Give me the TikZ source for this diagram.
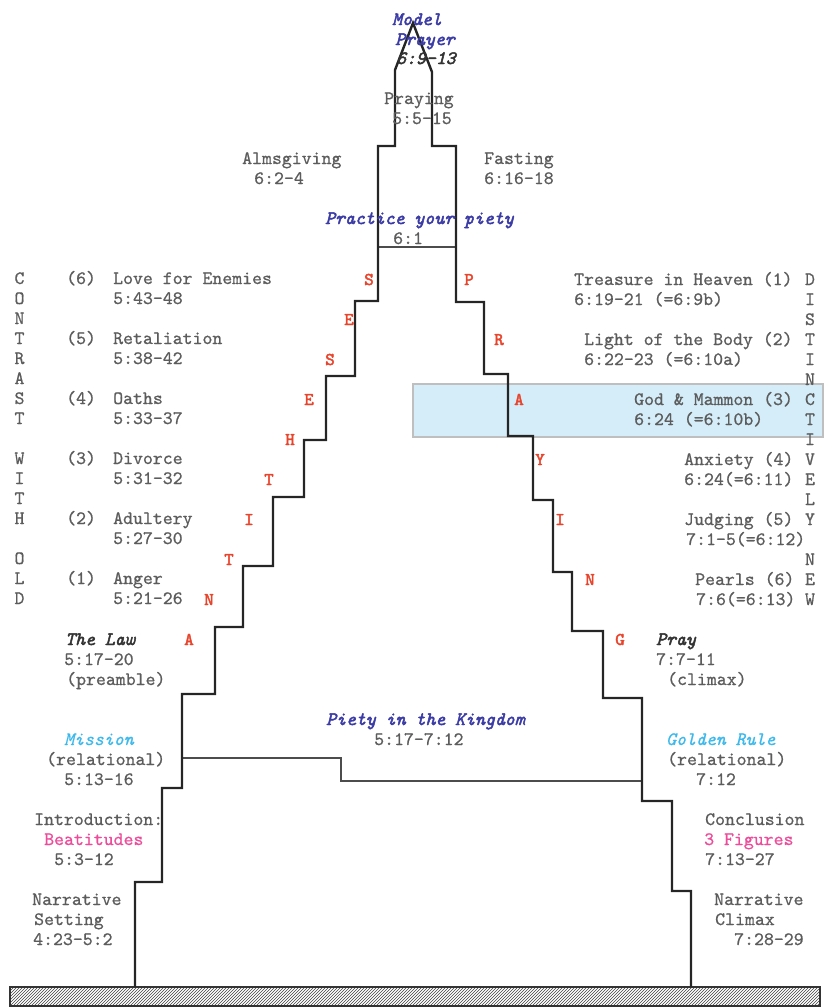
\documentclass[tikz,border=0pt]{standalone}
\usepackage{fontspec}
\newfontfamily\monorg{lmmono10-regular.otf}[FakeBold=0.8]
\newfontfamily\monoit{lmmono10-italic.otf}[FakeBold=0.8]
\newfontfamily\monobf{lmmono10-regular.otf}[FakeBold=2.5]
\newfontfamily\monobi{lmmono10-italic.otf}[FakeBold=2.5]
\usetikzlibrary{patterns}
\definecolor{txt}{HTML}{5C5C5C}
\definecolor{redl}{HTML}{E8442C}
\definecolor{blu}{HTML}{3B3BA6}
\definecolor{lblu}{HTML}{3CB9EC}
\definecolor{pnk}{HTML}{EC4C9A}
\definecolor{boxfill}{HTML}{D4EDF8}
\definecolor{wall}{HTML}{252525}
\tikzset{
  lbl/.style={anchor=base west, inner sep=0pt, font=\monorg\fontsize{18.9}{20}\selectfont, text=txt},
  bi/.style={lbl, font=\monobi\fontsize{18.9}{20}\selectfont},
  head/.style={bi, text=blu},
  dark/.style={bi, text=black!80},
  relit/.style={lbl, font=\monoit\fontsize{18.9}{20}\selectfont, text=lblu},
  pink/.style={lbl, text=pnk},
  letter/.style={lbl, anchor=base},
  redletter/.style={anchor=base, inner sep=0pt, font=\monobf\fontsize{18}{20}\selectfont, text=redl},
  wallline/.style={draw=wall, line width=2.4pt, line join=miter},
  innerline/.style={draw=black!70, line width=1.6pt},
  hilite/.style={fill=boxfill, draw=black!25, line width=1.2pt}
}
\begin{document}
\begin{tikzpicture}[x=1pt,y=-1pt]
\useasboundingbox (0,0) rectangle (823,1007);
% highlight band
\path[hilite] (413,384) rectangle (823,437);
% ground
\path[pattern=north east lines, pattern color=black!75] (10,987) rectangle (820,1006);
\draw[black!80, line width=1.2pt] (10,987) rectangle (820,1006);
% inner lines
\draw[innerline] (378,247) -- (456,247);
\draw[innerline] (182,758) -- (341,758) -- (341,781) -- (642,781);
% outline
\draw[wallline] (135,987) -- (135,882) -- (162,882) -- (162,788) -- (182,788) -- (182,694)
  -- (215,694) -- (215,627) -- (243,627) -- (243,566) -- (273,566) -- (273,497)
  -- (304,497) -- (304,440) -- (326,440) -- (326,376) -- (355,376) -- (355,301)
  -- (378,301) -- (378,146) -- (395,146) -- (395,70) -- (413,23) -- (432,72)
  -- (432,146) -- (456,146) -- (456,302) -- (484,302) -- (484,374) -- (508,374)
  -- (508,436) -- (533,436) -- (533,500) -- (553,500) -- (553,572) -- (572,572)
  -- (572,631) -- (603,631) -- (603,698) -- (642,698) -- (642,801) -- (672,801)
  -- (672,891) -- (691,891) -- (691,987);
% top
\node[head] (model) at (392,25) {Model};
\node[head] (prayer) at (395,45) {Prayer};
\node[dark] (mpref) at (396,64) {6:9-13};
\node[lbl] (praying) at (384,104) {Praying};
\node[lbl] (prayref) at (392,124) {5:5-15};
\node[lbl] (alms) at (242,164) {Almsgiving};
\node[lbl] (almsref) at (254,184) {6:2-4};
\node[lbl] (fast) at (484,164) {Fasting};
\node[lbl] (fastref) at (484,184) {6:16-18};
\node[head] (practice) at (325,224) {Practice your piety};
\node[lbl] (practref) at (393,244) {6:1};
% left column letters
\foreach \l/\yy [count=\i] in {C/279,O/299,N/319,T/339,R/359,A/379,S/399,T/419,W/459,I/479,T/499,H/519,O/559,L/579,D/599}
  \node[letter] (cl\i) at (19.5,\yy+5) {\l};
% right column letters
\foreach \l/\yy [count=\i] in {D/280,I/300,S/320,T/340,I/360,N/380,C/400,T/420,I/440,V/460,E/480,L/500,Y/520,N/560,E/580,W/600}
  \node[letter] (cr\i) at (810,\yy+5) {\l};
% left entries
\node[lbl] (n6) at (66,284) {(6)};
\node[lbl] (e6) at (113,284) {Love for Enemies};
\node[lbl] (r6) at (113,304) {5:43-48};
\node[lbl] (n5) at (66,344) {(5)};
\node[lbl] (e5) at (113,344) {Retaliation};
\node[lbl] (r5) at (113,364) {5:38-42};
\node[lbl] (n4) at (66,404) {(4)};
\node[lbl] (e4) at (113,404) {Oaths};
\node[lbl] (r4) at (113,424) {5:33-37};
\node[lbl] (n3) at (66,464) {(3)};
\node[lbl] (e3) at (113,464) {Divorce};
\node[lbl] (r3) at (113,484) {5:31-32};
\node[lbl] (n2) at (66,524) {(2)};
\node[lbl] (e2) at (113,524) {Adultery};
\node[lbl] (r2) at (113,544) {5:27-30};
\node[lbl] (n1) at (66,584) {(1)};
\node[lbl] (e1) at (113,584) {Anger};
\node[lbl] (r1) at (113,604) {5:21-26};
% right entries
\node[lbl] (d1) at (574,285) {Treasure in Heaven (1)};
\node[lbl] (dr1) at (574,305) {6:19-21 (=6:9b)};
\node[lbl] (d2) at (584,345) {Light of the Body (2)};
\node[lbl] (dr2) at (584,365) {6:22-23 (=6:10a)};
\node[lbl] (d3) at (634,405) {God \& Mammon (3)};
\node[lbl] (dr3) at (634,425) {6:24 (=6:10b)};
\node[lbl] (d4) at (684,465) {Anxiety (4)};
\node[lbl] (dr4) at (684,485) {6:24(=6:11)};
\node[lbl] (d5) at (684,525) {Judging (5)};
\node[lbl] (dr5) at (686,545) {7:1-5(=6:12)};
\node[lbl] (d6) at (695,585) {Pearls (6)};
\node[lbl] (dr6) at (696,605) {7:6(=6:13)};
% red letters
\foreach \l/\xx/\yy [count=\i] in {S/369/280,E/349/320,S/330/360,E/309/400,H/290/440,T/269/480,I/249/520,T/229/560,N/209/600,A/189/640}
  \node[redletter] (al\i) at (\xx,\yy+5) {\l};
\foreach \l/\xx/\yy [count=\i] in {P/469/280,R/499/340,A/519/400,Y/540/460,I/560/520,N/590/580,G/620/640}
  \node[redletter] (pr\i) at (\xx,\yy+5) {\l};
% law / pray
\node[dark] (law) at (65,645) {The Law};
\node[lbl] (lawref) at (64,665) {5:17-20};
\node[lbl] (pre) at (66,685) {(preamble)};
\node[dark] (pray) at (656,645) {Pray};
\node[lbl] (prayref2) at (656,665) {7:7-11};
\node[lbl] (climax) at (667,685) {(climax)};
% kingdom
\node[head] (kingdom) at (326,725) {Piety in the Kingdom};
\node[lbl] (kingref) at (374,745) {5:17-7:12};
% mission / golden rule
\node[relit] (mission) at (64,745) {Mission};
\node[lbl] (rel1) at (46,765) {(relational)};
\node[lbl] (misref) at (64,785) {5:13-16};
\node[relit] (golden) at (666,745) {Golden Rule};
\node[lbl] (rel2) at (667,765) {(relational)};
\node[lbl] (goldref) at (696,785) {7:12};
% intro / conclusion
\node[lbl] (intro) at (34,825) {Introduction:};
\node[pink] (beat) at (44,845) {Beatitudes};
\node[lbl] (beatref) at (54,865) {5:3-12};
\node[lbl] (concl) at (705,825) {Conclusion};
\node[pink] (fig) at (704,845) {3 Figures};
\node[lbl] (figref) at (705,865) {7:13-27};
% narrative
\node[lbl] (nar1) at (32,905) {Narrative};
\node[lbl] (set) at (34,925) {Setting};
\node[lbl] (setref) at (33,945) {4:23-5:2};
\node[lbl] (nar2) at (714,905) {Narrative};
\node[lbl] (clim) at (715,925) {Climax};
\node[lbl] (climref) at (734,945) {7:28-29};
\end{tikzpicture}
\end{document}
